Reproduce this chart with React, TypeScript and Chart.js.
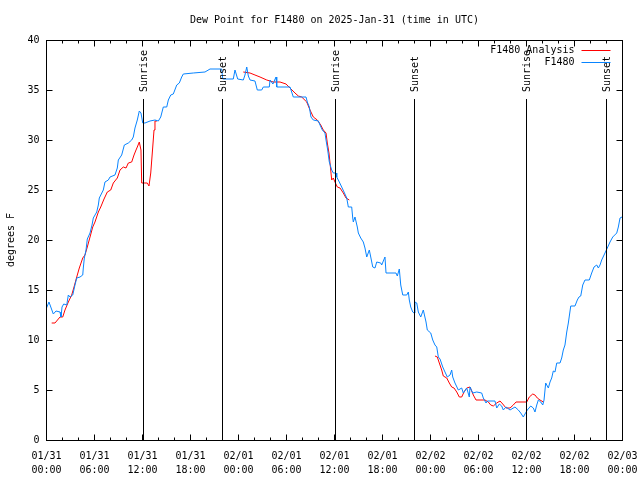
import React, { useEffect, useRef } from 'react';
import { Chart, registerables } from 'chart.js';

Chart.register(...registerables);

const TITLE = 'Dew Point for F1480 on 2025-Jan-31 (time in UTC)';
const Y_TITLE = 'degrees F';
const FONT = '"DejaVu Sans Mono", "Liberation Mono", monospace';

// x axis: hours since 2025-01-31 00:00 UTC
const xTickDates = ['01/31', '01/31', '01/31', '01/31', '02/01', '02/01', '02/01', '02/01', '02/02', '02/02', '02/02', '02/02', '02/03'];
const xTickTimes = ['00:00', '06:00', '12:00', '18:00', '00:00', '06:00', '12:00', '18:00', '00:00', '06:00', '12:00', '18:00', '00:00'];

const sunEventHours = [12.15, 21.98, 36.1, 45.98, 59.97, 70.0];
const sunEventLabels = ['Sunrise', 'Sunset', 'Sunrise', 'Sunset', 'Sunrise', 'Sunset'];

const seriesLabels = ['F1480 Analysis', 'F1480'];
const seriesColors = ['#ff0000', '#0884ff'];

const observedHours = [
  0.0, 0.31, 0.85, 1.19, 1.69, 1.81, 1.94, 2.15, 2.53, 2.73, 2.94, 3.28, 3.56, 3.78, 4.19, 4.53, 4.6, 4.73, 4.94, 5.1,
  5.44, 5.69, 5.85, 6.28, 6.48, 6.6, 7.1, 7.31, 7.73, 7.94, 8.56, 8.85, 8.98, 9.4, 9.73, 10.23, 10.65, 10.85, 11.06, 11.35,
  11.6, 11.81, 12.03, 12.31, 12.94, 13.56, 13.98, 14.28, 14.6, 15.03, 15.23, 15.53, 15.85, 16.28, 16.6, 16.9, 17.1, 18.35, 19.81, 20.44,
  21.9, 22.03, 23.35, 23.56, 23.9, 24.6, 24.81, 25.03, 25.23, 25.44, 26.06, 26.35, 26.9, 27.1, 27.85, 27.94, 28.3, 28.69, 28.78, 30.44,
  30.85, 32.44, 32.6, 32.85, 33.06, 33.35, 33.98, 34.19, 34.48, 34.81, 34.94, 35.15, 35.35, 35.65, 35.85, 36.19, 36.28, 36.6, 36.9, 37.19,
  37.53, 37.73, 38.15, 38.28, 38.35, 38.56, 38.85, 38.98, 39.28, 39.6, 39.81, 40.03, 40.35, 40.53, 40.78, 41.06, 41.28, 41.78, 41.9, 42.31,
  42.44, 43.69, 43.85, 44.1, 44.28, 44.53, 45.03, 45.23, 45.35, 45.53, 45.78, 45.94, 46.06, 46.28, 46.48, 46.78, 47.1, 47.44, 47.6, 48.03,
  48.28, 48.56, 48.78, 48.98, 49.19, 49.53, 49.81, 50.1, 50.44, 50.65, 50.78, 51.06, 51.48, 51.9, 52.1, 52.53, 52.85, 52.94, 53.28, 53.78,
  54.4, 54.6, 54.94, 55.1, 56.06, 56.28, 56.6, 56.9, 57.1, 57.44, 57.94, 58.56, 58.98, 59.28, 59.6, 59.81, 60.1, 60.53, 60.85, 61.06,
  61.28, 61.48, 61.78, 62.03, 62.19, 62.4, 62.73, 62.94, 63.15, 63.35, 63.56, 63.78, 64.19, 64.4, 64.6, 64.81, 65.03, 65.23, 65.53, 66.06,
  66.35, 66.56, 66.78, 67.03, 67.31, 67.85, 68.15, 68.44, 68.78, 68.98, 69.19, 69.4, 69.81, 70.1, 70.44, 70.78, 71.28, 71.48, 71.69, 71.94,
];
const observedValues = [
  13.2, 13.8, 12.6, 12.9, 12.8, 12.3, 13.3, 13.6, 13.5, 14.5, 14.3, 14.5, 15.5, 16.2, 16.3, 16.5, 17.2, 18.2, 19.0, 20.1,
  20.7, 21.5, 22.2, 22.8, 23.5, 24.2, 25.0, 25.8, 26.0, 26.3, 26.5, 27.2, 28.0, 28.5, 29.5, 29.7, 30.0, 30.3, 31.2, 32.0,
  32.9, 32.7, 31.7, 31.7, 31.9, 32.0, 31.9, 32.3, 33.3, 33.3, 34.0, 34.5, 34.6, 35.5, 35.7, 36.3, 36.6, 36.7, 36.8, 37.1,
  37.1, 36.1, 36.1, 37.0, 36.1, 36.0, 36.5, 37.3, 36.4, 36.0, 35.9, 35.0, 35.0, 35.3, 35.3, 36.0, 35.6, 36.3, 35.3, 35.3,
  34.3, 34.3, 33.8, 33.3, 32.3, 32.0, 31.9, 31.5, 31.0, 30.7, 30.0, 29.0, 27.8, 27.0, 26.7, 26.7, 26.3, 25.8, 25.3, 24.8,
  24.2, 23.3, 23.3, 22.2, 21.8, 22.3, 21.3, 20.7, 20.2, 19.8, 19.2, 18.3, 19.0, 18.3, 17.3, 17.2, 17.8, 17.7, 17.5, 18.3,
  16.7, 16.7, 16.4, 17.1, 15.5, 14.5, 14.5, 14.8, 14.0, 13.3, 12.8, 12.7, 13.8, 13.7, 12.8, 12.3, 13.0, 11.8, 11.0, 10.7,
  10.0, 9.5, 9.3, 8.3, 8.1, 7.3, 6.8, 6.3, 6.5, 7.0, 6.3, 5.7, 5.0, 5.2, 4.7, 5.2, 4.3, 5.3, 4.7, 4.8,
  4.7, 4.2, 3.7, 3.9, 3.9, 3.2, 3.6, 3.4, 3.0, 3.3, 3.0, 3.3, 3.0, 2.7, 2.3, 2.6, 3.0, 3.4, 3.2, 2.8,
  3.5, 4.0, 3.8, 3.5, 4.0, 5.7, 5.2, 5.8, 6.2, 6.9, 6.8, 7.7, 7.7, 8.2, 9.0, 9.5, 10.8, 11.7, 13.4, 13.4,
  14.0, 14.3, 14.4, 15.5, 16.0, 16.0, 16.7, 17.3, 17.5, 17.2, 17.5, 18.0, 18.7, 19.2, 19.8, 20.3, 20.7, 21.3, 22.2, 22.3,
];

// analysis series; null marks a gap in the record
const analysisHours = [
  0.65, 1.06, 1.69, 2.03, 2.31, 2.73, 3.15, 3.44, 3.78, 4.1, 4.53, 4.81, 5.1, 5.44, 5.78, 6.06, 6.48, 6.78, 7.19, 7.6,
  8.03, 8.35, 8.85, 9.19, 9.6, 9.94, 10.23, 10.65, 10.94, 11.19, 11.35, 11.6, 11.81, 11.9, 12.31, 12.6, 12.81, 13.03, 13.28, 13.44,
  13.56, 13.81, 19.0,
  24.6, 25.44, 26.06, 26.69, 27.53, 28.35, 29.19, 29.94, 30.44, 31.06, 31.48, 31.9, 32.53, 32.94, 33.35, 33.85, 34.28, 34.6, 34.94, 35.1,
  35.31, 35.44, 35.65, 35.85, 36.06, 36.35, 36.69, 37.1, 37.44, 37.85, 43.0,
  48.56, 48.85, 49.1, 49.4, 49.6, 50.03, 50.35, 50.65, 50.94, 51.28, 51.6, 51.9, 52.19, 52.53, 52.94, 53.35, 53.69, 54.81, 55.23, 55.53,
  55.85, 56.28, 56.69, 57.03, 57.44, 57.94, 58.35, 58.69, 60.03, 60.35, 60.78, 61.06, 61.35, 61.69, 62.1,
];
const analysisValues = [
  11.7, 11.7, 12.3, 12.3, 13.0, 13.8, 14.5, 15.3, 16.3, 17.2, 18.2, 18.5, 19.3, 20.3, 21.3, 21.8, 22.8, 23.3, 24.1, 24.8,
  25.0, 25.7, 26.2, 27.0, 27.3, 27.2, 27.7, 27.8, 28.5, 29.0, 29.3, 29.8, 29.0, 25.7, 25.7, 25.7, 25.4, 26.7, 29.3, 31.0,
  31.9, 31.9, null,
  36.8, 36.7, 36.5, 36.3, 36.0, 35.8, 35.8, 35.6, 35.2, 34.7, 34.4, 34.3, 33.8, 33.0, 32.3, 32.0, 31.5, 31.0, 30.7, 29.7,
  28.7, 27.7, 26.0, 26.2, 25.8, 25.3, 25.2, 24.7, 24.2, 24.0, null,
  8.4, 8.3, 7.7, 7.0, 6.4, 6.2, 5.7, 5.3, 5.2, 4.8, 4.3, 4.3, 4.8, 5.2, 5.3, 4.5, 4.0, 4.0, 3.8, 3.5,
  3.4, 3.7, 3.9, 3.6, 3.2, 3.2, 3.5, 3.8, 3.8, 4.3, 4.6, 4.5, 4.2, 4.0, 3.8,
];

const gnuplotFrame = {
  id: 'gnuplotFrame',
  afterDatasetsDraw(chart: any) {
    const { ctx, chartArea: a, scales } = chart;
    const xs = scales.x;
    const ys = scales.y;
    const L = Math.floor(a.left) + 0.5;
    const R = Math.floor(a.right) + 0.5;
    const T = Math.floor(a.top) + 0.5;
    const B = Math.floor(a.bottom) + 0.5;
    ctx.save();
    ctx.strokeStyle = '#000';
    ctx.lineWidth = 1;
    ctx.beginPath();
    for (const t of xs.ticks) {
      const px = Math.floor(xs.getPixelForValue(t.value)) + 0.5;
      const len = t.value % 6 === 0 ? 6 : 3;
      ctx.moveTo(px, B);
      ctx.lineTo(px, B - len);
      ctx.moveTo(px, T);
      ctx.lineTo(px, T + len);
    }
    for (const t of ys.ticks) {
      const py = Math.floor(ys.getPixelForValue(t.value)) + 0.5;
      ctx.moveTo(L, py);
      ctx.lineTo(L + 6, py);
      ctx.moveTo(R, py);
      ctx.lineTo(R - 6, py);
    }
    ctx.stroke();

    // sunrise / sunset markers
    ctx.font = `10px ${FONT}`;
    ctx.fillStyle = '#000';
    sunEventHours.forEach((h, i) => {
      const px = Math.floor(xs.getPixelForValue(h)) + 0.5;
      ctx.beginPath();
      ctx.moveTo(px, a.top + 59);
      ctx.lineTo(px, B);
      ctx.stroke();
      ctx.save();
      ctx.translate(px + 1, a.top + 52);
      ctx.rotate(-Math.PI / 2);
      ctx.textAlign = 'left';
      ctx.textBaseline = 'middle';
      ctx.fillText(sunEventLabels[i], 0, 0);
      ctx.restore();
    });

    // key (gnuplot style: text right-aligned, sample to the right)
    chart.data.datasets.forEach((ds: any, i: number) => {
      const y = Math.floor(a.top + 10 + i * 12.7) + 0.5;
      ctx.textAlign = 'right';
      ctx.textBaseline = 'middle';
      ctx.fillStyle = '#000';
      ctx.fillText(ds.label, a.right - 48, y);
      ctx.strokeStyle = ds.borderColor;
      ctx.beginPath();
      ctx.moveTo(a.right - 41, y);
      ctx.lineTo(a.right - 12, y);
      ctx.stroke();
    });

    ctx.strokeStyle = '#000';
    ctx.strokeRect(L, T, R - L, B - T);
    ctx.restore();
  },
};

export default function App() {
  const canvasRef = useRef<HTMLCanvasElement | null>(null);

  useEffect(() => {
    const canvas = canvasRef.current;
    if (!canvas) return;
    const tickFont = { family: FONT, size: 10, weight: 'normal' as const, lineHeight: 1.35 };
    const chart = new Chart(canvas, {
      type: 'line',
      data: {
        datasets: [
          {
            label: seriesLabels[0],
            data: analysisHours.map((h, i) => ({ x: h, y: analysisValues[i] as any })),
            borderColor: seriesColors[0],
            backgroundColor: seriesColors[0],
            borderWidth: 1,
            pointRadius: 0,
            tension: 0,
            spanGaps: false,
            order: 1,
          },
          {
            label: seriesLabels[1],
            data: observedHours.map((h, i) => ({ x: h, y: observedValues[i] })),
            borderColor: seriesColors[1],
            backgroundColor: seriesColors[1],
            borderWidth: 1,
            pointRadius: 0,
            tension: 0,
            order: 0,
          },
        ],
      },
      options: {
        responsive: false,
        animation: false,
        devicePixelRatio: 1,
        layout: { padding: { left: 0, right: 17.5, top: 0, bottom: 0 } },
        plugins: {
          legend: { display: false },
          tooltip: { enabled: false },
          title: {
            display: true,
            text: TITLE,
            color: '#000',
            fullSize: false,
            font: { family: FONT, size: 10, weight: 'normal', lineHeight: 1.2 },
            padding: { top: 14, bottom: 14 },
          },
        },
        scales: {
          x: {
            type: 'linear',
            min: 0,
            max: 72,
            afterFit: (s: any) => {
              s.height = 40;
              s.paddingLeft = 0;
              s.paddingRight = 0;
            },
            grid: { display: false, drawTicks: false },
            border: { display: false },
            ticks: {
              stepSize: 2,
              autoSkip: false,
              maxRotation: 0,
              minRotation: 0,
              padding: 10,
              color: '#000',
              font: tickFont,
              callback: (v: any) => {
                const n = Number(v);
                if (n % 6 !== 0) return '';
                const idx = n / 6;
                return [xTickDates[idx], xTickTimes[idx]];
              },
            },
          },
          y: {
            type: 'linear',
            min: 0,
            max: 40,
            afterFit: (s: any) => {
              s.width = 46.5;
              s.paddingTop = 0;
              s.paddingBottom = 0;
            },
            grid: { display: false, drawTicks: false },
            border: { display: false },
            ticks: {
              stepSize: 5,
              padding: 7,
              color: '#000',
              font: { family: FONT, size: 10, weight: 'normal' },
              callback: (v: any) => String(v),
            },
            title: {
              display: true,
              text: Y_TITLE,
              color: '#000',
              font: { family: FONT, size: 10, weight: 'normal', lineHeight: 1.2 },
              padding: { top: 5, bottom: 0 },
            },
          },
        },
      },
      plugins: [gnuplotFrame],
    });
    return () => chart.destroy();
  }, []);

  return (
    <div style={{ position: 'fixed', left: 0, top: 0, width: 640, height: 480, background: '#fff' }}>
      <canvas ref={canvasRef} width={640} height={480} />
    </div>
  );
}
